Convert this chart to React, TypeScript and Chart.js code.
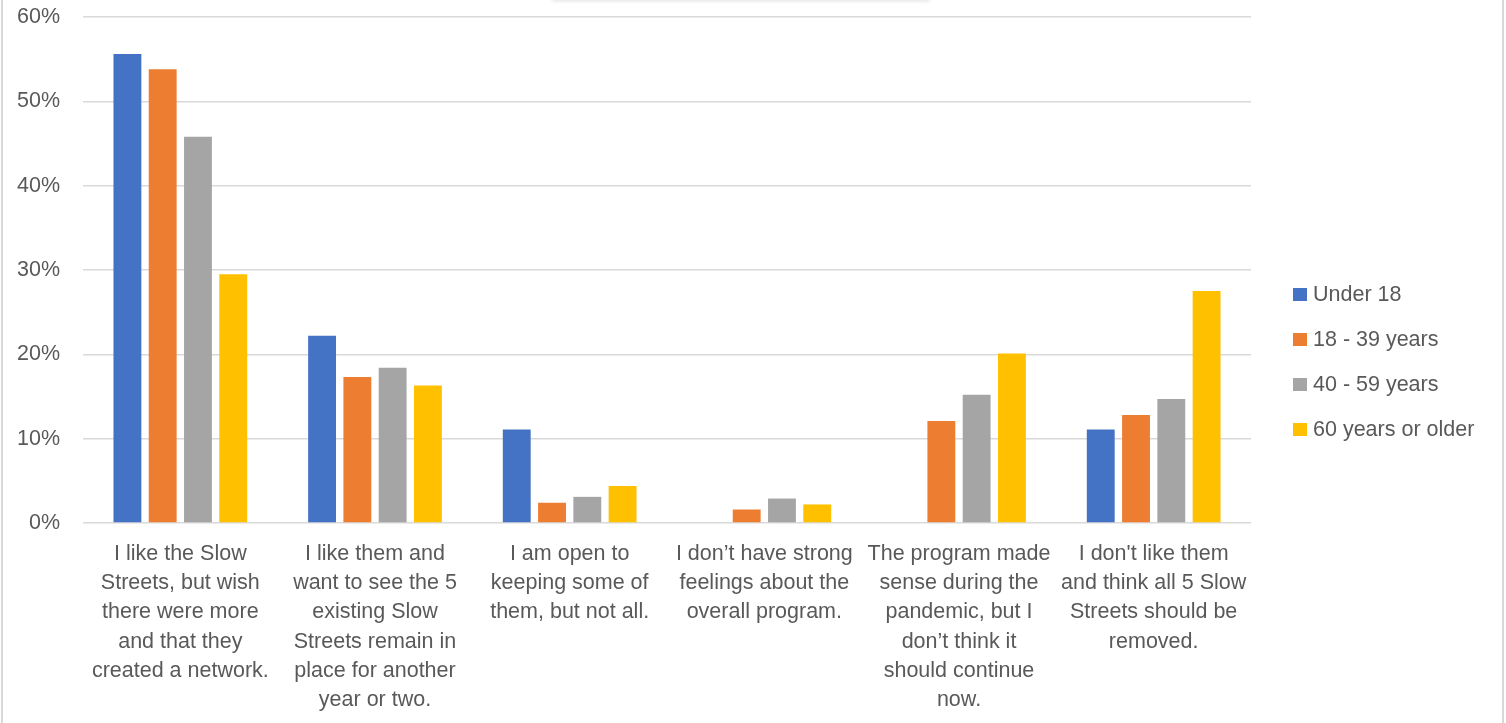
import { useEffect, useRef } from "react";
import { Chart, registerables } from "chart.js";

Chart.register(...registerables);

const categories: string[][] = [
  ["I like the Slow", "Streets, but wish", "there were more", "and that they", "created a network."],
  ["I like them and", "want to see the 5", "existing Slow", "Streets remain in", "place for another", "year or two."],
  ["I am open to", "keeping some of", "them, but not all."],
  ["I don’t have strong", "feelings about the", "overall program."],
  ["The program made", "sense during the", "pandemic, but I", "don’t think it", "should continue", "now."],
  ["I don't like them", "and think all 5 Slow", "Streets should be", "removed."],
];

const seriesNames = ["Under 18", "18 - 39 years", "40 - 59 years", "60 years or older"];
const under18 = [55.6, 22.2, 11.1, 0, 0, 11.1];
const age18to39 = [53.8, 17.3, 2.4, 1.6, 12.1, 12.8];
const age40to59 = [45.8, 18.4, 3.1, 2.9, 15.2, 14.7];
const age60plus = [29.5, 16.3, 4.4, 2.2, 20.1, 27.5];
const seriesColors = ["#4472C4", "#ED7D31", "#A5A5A5", "#FFC000"];

const yMax = 60;
const yStep = 10;

const FONT = '"Liberation Sans", Arial, sans-serif';
const FONT_SIZE = 21.5;
const TEXT_COLOR = "#595959";

const sideLegend = {
  id: "sideLegend",
  afterDraw(chart: any) {
    const ctx = chart.ctx;
    const ds = chart.data.datasets;
    const x = chart.chartArea.right + 42;
    const spacing = 45;
    const cy = chart.height / 2;
    const startY = cy - (spacing * (ds.length - 1)) / 2;
    ctx.save();
    ctx.font = `${FONT_SIZE}px ${FONT}`;
    ctx.textBaseline = "middle";
    ctx.textAlign = "left";
    ds.forEach((d: any, i: number) => {
      const y = startY + i * spacing;
      ctx.fillStyle = d.backgroundColor;
      ctx.fillRect(x, y - 6, 14, 13);
      ctx.fillStyle = TEXT_COLOR;
      ctx.fillText(d.label, x + 20, y + 1);
    });
    ctx.restore();
  },
};

export default function App() {
  const canvasRef = useRef<HTMLCanvasElement | null>(null);

  useEffect(() => {
    document.body.style.margin = "0";
    const canvas = canvasRef.current;
    if (!canvas) return;
    const values = [under18, age18to39, age40to59, age60plus];
    const chart = new Chart(canvas, {
      type: "bar",
      data: {
        labels: categories,
        datasets: seriesNames.map((name, i) => ({
          label: name,
          data: values[i],
          backgroundColor: seriesColors[i],
          borderWidth: 0,
          categoryPercentage: 0.725,
          barPercentage: 0.79,
        })),
      },
      options: {
        responsive: false,
        animation: false,
        layout: { padding: { top: 17, right: 255, left: 0, bottom: 0 } },
        plugins: {
          legend: { display: false },
          tooltip: { enabled: false },
          title: { display: false },
        },
        scales: {
          x: {
            grid: { display: false },
            border: { display: false },
            ticks: {
              color: TEXT_COLOR,
              font: { family: FONT, size: FONT_SIZE, lineHeight: 1.35 },
              padding: 9,
              maxRotation: 0,
              minRotation: 0,
              autoSkip: false,
            },
            afterFit: (scale: any) => {
              scale.height = 200;
              scale.paddingLeft = 0;
              scale.paddingRight = 0;
            },
          },
          y: {
            min: 0,
            max: yMax,
            grid: { color: "#d9d9d9", lineWidth: 1.5, drawTicks: false },
            border: { display: false },
            ticks: {
              stepSize: yStep,
              color: TEXT_COLOR,
              font: { family: FONT, size: FONT_SIZE },
              padding: 23,
              callback: (v: any) => `${v}%`,
            },
            afterFit: (scale: any) => {
              scale.width = 83;
              scale.paddingTop = 0;
              scale.paddingBottom = 0;
            },
          },
        },
      },
      plugins: [sideLegend],
    });
    return () => chart.destroy();
  }, []);

  return (
    <div style={{ position: "relative", width: 1506, height: 723, overflow: "hidden", background: "#fff" }}>
      <canvas ref={canvasRef} width={1506} height={723} style={{ position: "absolute", left: 0, top: 0 }} />
      <div style={{ position: "absolute", left: 1, top: 0, width: 2, height: 723, background: "#d9d9d9" }} />
      <div style={{ position: "absolute", left: 1502, top: 0, width: 2, height: 723, background: "#d9d9d9" }} />
      <div
        style={{
          position: "absolute",
          left: 552,
          top: -14,
          width: 378,
          height: 14,
          background: "#fff",
          boxShadow: "0 1px 4px rgba(0,0,0,0.12)",
        }}
      />
    </div>
  );
}
